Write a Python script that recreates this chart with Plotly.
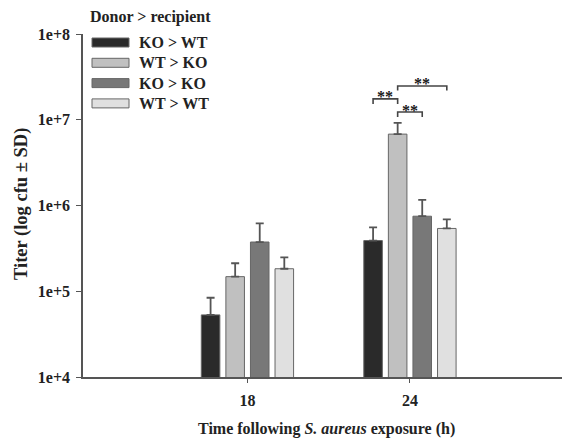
import plotly.graph_objects as go
import numpy as np

groups = ["18", "24"]
series = ["KO > WT", "WT > KO", "KO > KO", "WT > WT"]
colors = ["#2a2a2a", "#c0c0c0", "#787878", "#e0e0e0"]
means = {
    "KO > WT": [5.3e4, 3.9e5],
    "WT > KO": [1.48e5, 6.8e6],
    "KO > KO": [3.75e5, 7.5e5],
    "WT > WT": [1.83e5, 5.4e5],
}
err_top = {
    "KO > WT": [8.4e4, 5.55e5],
    "WT > KO": [2.12e5, 9.2e6],
    "KO > KO": [6.2e5, 1.16e6],
    "WT > WT": [2.49e5, 6.9e5],
}
# significance brackets at 24 h: (series a, series b, bracket height, leg end height)
brackets = [
    ("KO > WT", "WT > KO", 1.75e7, 1.53e7),
    ("WT > KO", "KO > KO", 1.23e7, 1.08e7),
    ("WT > KO", "WT > WT", 2.48e7, 2.20e7),
]

FONT = "Liberation Serif"
# plot area in page pixels (page is drawn with an 8 px body offset)
OFF = 8
L, T, R, B = 83, 34, 570, 377
PW, PH = R - L, B - T


def px(xp):
    return (xp - L) / PW


def py(yp):
    return (B - yp) / PH


xpos = np.arange(len(groups))
bargap = 0.395
slot = (1 - bargap) / len(series)

fig = go.Figure()
for i, s in enumerate(series):
    plus = [t - m for t, m in zip(err_top[s], means[s])]
    fig.add_trace(go.Bar(
        x=xpos, y=means[s], name=s, showlegend=False,
        marker=dict(color=colors[i], line=dict(color="#666666", width=1)),
        error_y=dict(type="data", symmetric=False, array=plus,
                     arrayminus=[0] * len(plus), color="#555555",
                     thickness=1.8, width=4),
    ))

annotations = []
shapes = []
for a, b, yb, yl in brackets:
    ia, ib = series.index(a), series.index(b)
    xa = 1 + (ia - 1.5) * slot
    xb = 1 + (ib - 1.5) * slot
    fig.add_trace(go.Scatter(
        x=[xa, xa, xb, xb], y=[yl, yb, yb, yl], mode="lines",
        line=dict(color="#444444", width=1.6), showlegend=False, hoverinfo="skip"))
    annotations.append(dict(
        x=(xa + xb) / 2, y=np.log10(yb), xref="x", yref="y", text="<b>**</b>",
        showarrow=False, xanchor="center", yanchor="middle", yshift=2,
        font=dict(family=FONT, size=16, color="#1a1a1a")))

# legend (wide swatches like the original)
for i, s in enumerate(series):
    yc = 42.5 + 20.3 * i
    shapes.append(dict(type="rect", xref="paper", yref="paper",
                       x0=px(92), x1=px(129), y0=py(yc + 4.5), y1=py(yc - 4.5),
                       fillcolor=colors[i], line=dict(color="#666666", width=1)))
    annotations.append(dict(text=f"<b>{s}</b>", xref="paper", yref="paper",
                            x=px(137), y=py(yc), xanchor="left", yanchor="middle",
                            showarrow=False,
                            font=dict(family=FONT, size=16, color="#222222")))

annotations += [
    dict(text="<b>Donor > recipient</b>", xref="paper", yref="paper",
         x=px(88), y=py(17), xanchor="left", yanchor="middle",
         showarrow=False, font=dict(family=FONT, size=16, color="#222222")),
    dict(text="<b>Time following <i>S. aureus</i> exposure (h)</b>",
         xref="paper", yref="paper", x=0.5, y=py(429),
         xanchor="center", yanchor="middle", showarrow=False,
         font=dict(family=FONT, size=16, color="#222222")),
    dict(text="<b>Titer (log cfu ± SD)</b>", textangle=-90,
         xref="paper", yref="paper", x=px(21), y=py(204),
         xanchor="center", yanchor="middle", showarrow=False,
         font=dict(family=FONT, size=18.5, color="#222222")),
]

fig.update_layout(
    width=570, height=440,
    margin=dict(l=L - OFF, r=570 - (R - OFF), t=T - OFF, b=440 - (B - OFF), autoexpand=False),
    paper_bgcolor="white", plot_bgcolor="white",
    barmode="group", bargap=bargap, bargroupgap=0.245,
    font=dict(family=FONT, size=16, color="#222222"),
    showlegend=False,
    xaxis=dict(
        range=[-1.012, 1.985], tickvals=list(xpos), ticktext=groups,
        showline=True, linecolor="#555555", linewidth=1.5,
        ticks="outside", ticklen=4, tickcolor="#555555",
        showgrid=False, zeroline=False, ticklabelstandoff=4,
        tickfont=dict(family=FONT, size=16, weight="bold"),
    ),
    yaxis=dict(
        type="log", range=[4, 8],
        tickvals=[1e4, 1e5, 1e6, 1e7, 1e8],
        ticktext=["1e+4", "1e+5", "1e+6", "1e+7", "1e+8"],
        showline=True, linecolor="#555555", linewidth=1.5,
        ticks="outside", ticklen=5, tickcolor="#555555",
        showgrid=False, zeroline=False, ticklabelstandoff=3,
        tickfont=dict(family=FONT, size=16, weight="bold"),
    ),
    shapes=shapes,
    annotations=annotations,
)

fig.write_html("out.html")
